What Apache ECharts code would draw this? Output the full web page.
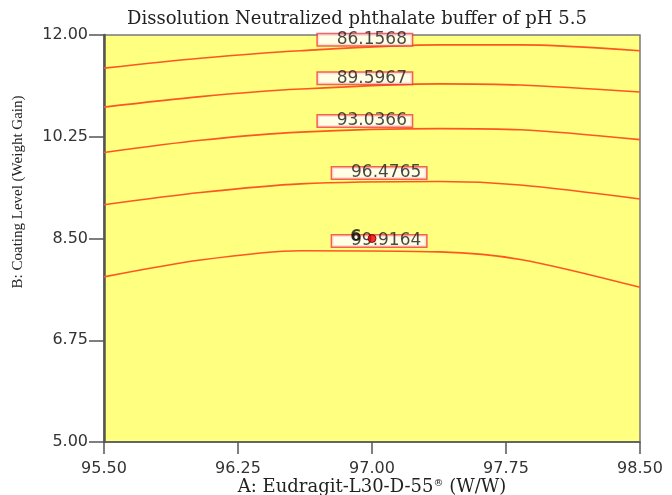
<!DOCTYPE html>
<html>
<head>
<meta charset="utf-8">
<script src="https://cdn.jsdelivr.net/npm/echarts@6/dist/echarts.min.js"></script>
<style>
  html, body { margin: 0; padding: 0; background: #ffffff; }
  #chart { width: 672px; height: 495px; }
</style>
</head>
<body>
<div id="chart"></div>
<script>
// Factor A levels along which each contour was traced
const aLevels = [95.5, 96.04, 96.6, 97.38, 97.83, 98.5];

// Coating level (B) where each dissolution contour crosses the A levels above
const contour86 = [11.43, 11.60, 11.73, 11.83, 11.83, 11.73];
const contour89 = [10.76, 10.94, 11.07, 11.16, 11.14, 11.02];
const contour93 = [9.98, 10.19, 10.33, 10.39, 10.37, 10.20];
const contour96 = [9.08, 9.29, 9.44, 9.48, 9.42, 9.18];
const contour99 = [7.84, 8.13, 8.29, 8.27, 8.14, 7.66];

// Contour levels and where their tags sit
const contourLevels = ['86.1568', '89.5967', '93.0366', '96.4765', '99.9164'];
const tagA = [96.96, 96.96, 96.96, 97.04, 97.04];
const tagB = [11.92, 11.255, 10.52, 9.626, 8.457];

// Design point
const designPoint = [97.0, 8.5];
const designRun = '6';

// Axis ranges
const xTicks = [95.5, 96.25, 97.0, 97.75, 98.5];
const yTicks = [5.0, 6.75, 8.5, 10.25, 12.0];

const contours = [contour86, contour89, contour93, contour96, contour99];

const lineSeries = contours.map(function (vals, i) {
  return {
    type: 'line',
    name: contourLevels[i],
    data: aLevels.map(function (a, j) { return [a, vals[j]]; }),
    showSymbol: false,
    smooth: 0.3,
    lineStyle: { color: '#ff5522', width: 1.6 },
    z: 2,
    silent: true
  };
});

// Contour value tags: white box with red outline, text set slightly right
const tagSeries = {
  type: 'scatter',
  data: contourLevels.map(function (lv, i) { return [tagA[i], tagB[i], lv]; }),
  symbolSize: 0,
  label: {
    show: true,
    position: 'inside',
    formatter: function (p) { return p.data[2]; },
    color: '#1a1a1a',
    fontFamily: 'DejaVu Sans',
    fontSize: 17,
    lineHeight: 13,
    width: 80,
    height: 11,
    padding: [0, 0, 0, 14],
    overflow: 'none',
    backgroundColor: '#ffffff',
    borderColor: '#f03c3c',
    borderWidth: 1.5
  },
  clip: false,
  z: 4,
  silent: true
};

const pointSeries = {
  type: 'scatter',
  data: [[designPoint[0], designPoint[1], designRun]],
  symbolSize: 8,
  itemStyle: { color: '#ee0000', borderColor: '#660000', borderWidth: 1 },
  label: {
    show: true,
    position: 'left',
    distance: 6,
    offset: [0, -2],
    formatter: function (p) { return p.data[2]; },
    color: '#111111',
    fontFamily: 'DejaVu Sans',
    fontSize: 16,
    fontWeight: 'bold'
  },
  z: 6,
  silent: true
};

const chart = echarts.init(document.getElementById('chart'));

chart.setOption({
  animation: false,
  backgroundColor: '#ffffff',
  title: {
    text: 'Dissolution Neutralized phthalate buffer of pH 5.5',
    left: 122,
    top: 5,
    textStyle: {
      fontFamily: 'DejaVu Serif',
      fontSize: 18,
      fontWeight: 'normal',
      color: '#222222'
    }
  },
  grid: {
    left: 104,
    right: 32,
    top: 35,
    bottom: 53,
    containLabel: false,
    outerBoundsMode: 'none',
    show: true,
    backgroundColor: '#ffff80',
    borderColor: '#7a7a7a',
    borderWidth: 1.5
  },
  xAxis: {
    type: 'value',
    min: xTicks[0],
    max: xTicks[xTicks.length - 1],
    interval: xTicks[1] - xTicks[0],
    name: 'A: Eudragit-L30-D-55{sup|®} (W/W)',
    nameLocation: 'middle',
    nameGap: 36,
    nameMoveOverlap: false,
    nameTextStyle: {
      fontFamily: 'DejaVu Serif',
      fontSize: 18,
      lineHeight: 18,
      color: '#222222',
      rich: {
        sup: { fontFamily: 'DejaVu Serif', fontSize: 10, lineHeight: 18, verticalAlign: 'top', color: '#222222' }
      }
    },
    axisLine: { show: true, lineStyle: { color: '#555555', width: 1.5 } },
    axisTick: { show: true, length: 12, lineStyle: { color: '#555555', width: 1.5 } },
    axisLabel: {
      margin: 19,
      formatter: function (v) { return v.toFixed(2); },
      fontFamily: 'DejaVu Sans',
      fontSize: 16,
      color: '#333333'
    },
    splitLine: { show: false }
  },
  yAxis: {
    type: 'value',
    min: yTicks[0],
    max: yTicks[yTicks.length - 1],
    interval: yTicks[1] - yTicks[0],
    axisLine: { show: true, lineStyle: { color: '#555555', width: 2.5 } },
    axisTick: { show: true, length: 15, lineStyle: { color: '#555555', width: 1.5 } },
    axisLabel: {
      margin: 16,
      formatter: function (v) { return v.toFixed(2); },
      fontFamily: 'DejaVu Sans',
      fontSize: 16,
      color: '#333333'
    },
    splitLine: { show: false }
  },
  graphic: [{
    type: 'text',
    x: 18,
    y: 192,
    rotation: Math.PI / 2,
    style: {
      text: 'B: Coating Level (Weight Gain)',
      fontFamily: 'Liberation Serif',
      fontSize: 15,
      fill: '#222222',
      align: 'center',
      verticalAlign: 'middle'
    }
  }],
  series: lineSeries.concat([tagSeries, pointSeries])
});
</script>
</body>
</html>
